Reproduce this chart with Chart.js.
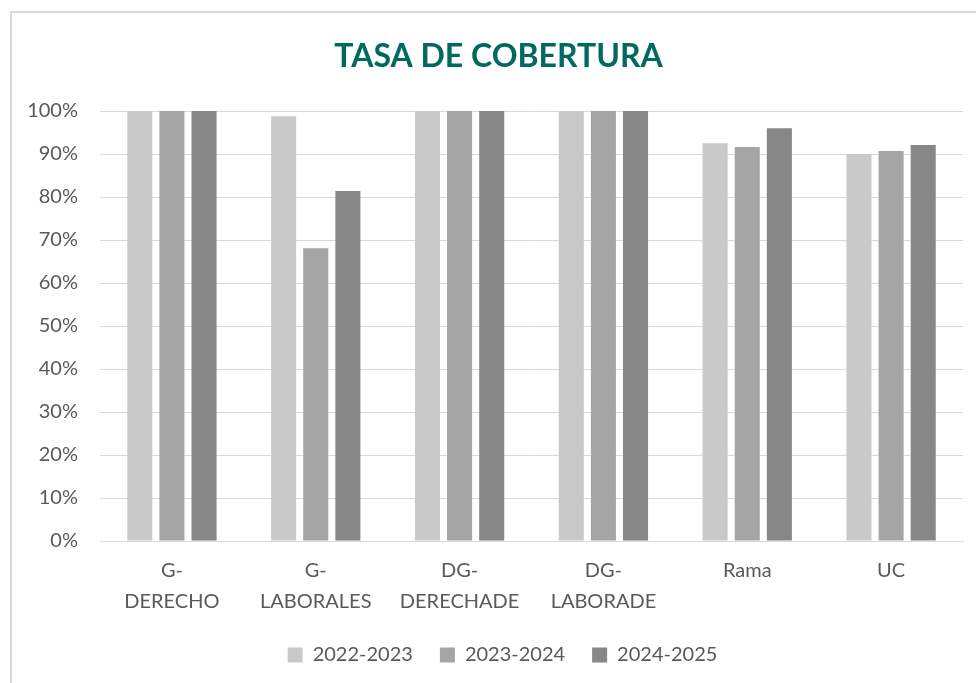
<!DOCTYPE html>
<html>
<head>
<meta charset="utf-8">
<script src="https://cdn.jsdelivr.net/npm/chart.js@4.4.0/dist/chart.umd.min.js"></script>
<style>
  html, body { margin: 0; padding: 0; background: #fff; overflow: hidden; }
  #marc {
    position: absolute; left: 10px; top: 11px;
    width: 980px; height: 690px;
    border: 2px solid #d9d9d9; background: #fff;
  }
  #contenidor { position: absolute; left: 0; top: 0; width: 964px; height: 670px; }
</style>
</head>
<body>
<div id="marc"><div id="contenidor"><canvas id="graficCobertura"></canvas></div></div>
<script>
const categories = [['G-', 'DERECHO'], ['G-', 'LABORALES'], ['DG-', 'DERECHADE'], ['DG-', 'LABORADE'], 'Rama', 'UC'];
const curs2022 = [100, 98.8, 100, 100, 92.5, 90.0];
const curs2023 = [100, 68.1, 100, 100, 91.6, 90.7];
const curs2024 = [100, 81.4, 100, 100, 96.0, 92.1];
const etiquetesY = ['0%', '10%', '20%', '30%', '40%', '50%', '60%', '70%', '80%', '90%', '100%'];

const textGris = '#595959';
const font = 'Lato, "Open Sans", sans-serif';

// centra el títol i la llegenda com a l'original (desplaçats cap a la dreta)
const desplacament = {
    id: 'desplacament',
    afterLayout(chart) {
        if (chart.titleBlock) {
            chart.titleBlock.left += 11;
            chart.titleBlock.right += 11;
        }
        if (chart.legend) {
            chart.legend.left += 15;
            chart.legend.right += 15;
        }
    }
};

const ctx = document.getElementById('graficCobertura').getContext('2d');
new Chart(ctx, {
    type: 'bar',
    data: {
        labels: categories,
        datasets: [
            { label: '2022-2023', data: curs2022, backgroundColor: '#c9c9c9' },
            { label: '2023-2024', data: curs2023, backgroundColor: '#a5a5a5' },
            { label: '2024-2025', data: curs2024, backgroundColor: '#878787' }
        ]
    },
    plugins: [desplacament],
    options: {
        responsive: true,
        maintainAspectRatio: false,
        animation: false,
        categoryPercentage: 0.67,
        barPercentage: 0.78,
        layout: { padding: { top: 10, right: 13, left: 0, bottom: 8 } },
        plugins: {
            title: {
                display: true,
                text: 'TASA DE COBERTURA',
                color: '#006a5e',
                font: { family: font, size: 32, weight: 'bold' },
                padding: { top: 14, bottom: 35.6 }
            },
            legend: {
                position: 'bottom',
                labels: {
                    color: textGris,
                    font: { family: font, size: 20 },
                    boxWidth: 15,
                    boxHeight: 15,
                    padding: 27
                }
            },
            tooltip: { enabled: false }
        },
        scales: {
            x: {
                afterFit: (escala) => { escala.height = 77; },
                grid: { display: false },
                border: { color: '#d9d9d9', width: 1 },
                ticks: {
                    color: textGris,
                    font: { family: font, size: 20, lineHeight: 1.55 },
                    maxRotation: 0,
                    padding: 6.5
                }
            },
            y: {
                min: 0,
                max: 100,
                afterFit: (escala) => { escala.width = 88; },
                grid: { color: '#d9d9d9', drawTicks: false },
                border: { display: false },
                ticks: {
                    stepSize: 10,
                    color: textGris,
                    font: { family: font, size: 20 },
                    padding: 22,
                    callback: (valor) => etiquetesY[Math.round(valor / 10)]
                }
            }
        }
    }
});
</script>
</body>
</html>
